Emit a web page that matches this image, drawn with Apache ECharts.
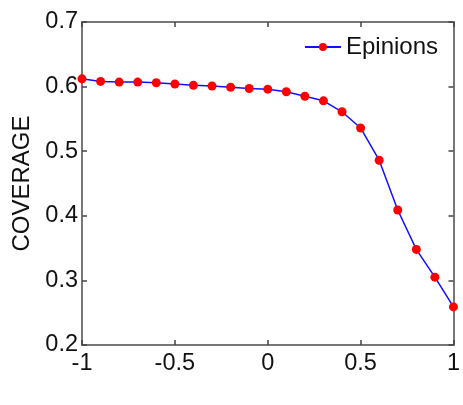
<!DOCTYPE html>
<html>
<head>
<meta charset="utf-8">
<script src="https://cdn.jsdelivr.net/npm/echarts@6/dist/echarts.min.js"></script>
<style>
  html, body { margin: 0; padding: 0; background: #fff; }
  #chart { width: 463px; height: 405px; }
</style>
</head>
<body>
<div id="chart"></div>
<script>
// Threshold values on the x axis
const thresholds = [-1, -0.9, -0.8, -0.7, -0.6, -0.5, -0.4, -0.3, -0.2, -0.1, 0,
                    0.1, 0.2, 0.3, 0.4, 0.5, 0.6, 0.7, 0.8, 0.9, 1];
// Coverage measured on Epinions for each threshold
const epinionsCoverage = [0.612, 0.608, 0.607, 0.607, 0.606, 0.604, 0.602, 0.601, 0.599, 0.597, 0.596,
                          0.592, 0.585, 0.578, 0.561, 0.536, 0.486, 0.409, 0.348, 0.305, 0.259];
const seriesName = 'Epinions';
const yAxisName = 'COVERAGE';

const font = '"Liberation Sans", Arial, sans-serif';
const axisColor = '#777';

const chart = echarts.init(document.getElementById('chart'), null, { renderer: 'canvas' });

const baseAxis = {
  type: 'value',
  axisLine: { show: true, onZero: false, lineStyle: { color: axisColor, width: 2 } },
  axisTick: { show: true, inside: true, length: 5, lineStyle: { color: '#444', width: 1.5 } },
  splitLine: { show: false },
  axisLabel: { fontFamily: font, fontSize: 23.5, color: '#111' }
};

chart.setOption({
  backgroundColor: '#fff',
  animation: false,
  grid: { left: 82, right: 9, top: 22, bottom: 60 },
  legend: {
    right: 20, top: 30,
    itemWidth: 36, itemHeight: 10, itemGap: 4,
    textStyle: { fontFamily: font, fontSize: 24, color: '#111' },
    data: [seriesName]
  },
  xAxis: [
    Object.assign({}, baseAxis, {
      position: 'bottom', min: -1, max: 1, interval: 0.5,
      axisLabel: Object.assign({}, baseAxis.axisLabel, { margin: 7 })
    }),
    Object.assign({}, baseAxis, {
      position: 'top', min: -1, max: 1, interval: 0.5,
      axisLabel: { show: false }
    })
  ],
  yAxis: [
    Object.assign({}, baseAxis, {
      position: 'left', min: 0.2, max: 0.7, interval: 0.1,
      name: yAxisName, nameLocation: 'middle', nameGap: 47, nameRotate: 90,
      nameTextStyle: { fontFamily: font, fontSize: 24, color: '#111' },
      axisLabel: Object.assign({}, baseAxis.axisLabel, {
        margin: 4,
        formatter: v => v.toFixed(1)
      })
    }),
    Object.assign({}, baseAxis, {
      position: 'right', min: 0.2, max: 0.7, interval: 0.1,
      axisLabel: { show: false }
    })
  ],
  series: [{
    name: seriesName,
    type: 'line',
    xAxisIndex: 0, yAxisIndex: 0,
    data: thresholds.map((x, i) => [x, epinionsCoverage[i]]),
    symbol: 'circle',
    symbolSize: 9,
    lineStyle: { color: '#1010ff', width: 1.5 },
    itemStyle: { color: '#ff0000' },
    emphasis: { disabled: true }
  }]
});
</script>
</body>
</html>
